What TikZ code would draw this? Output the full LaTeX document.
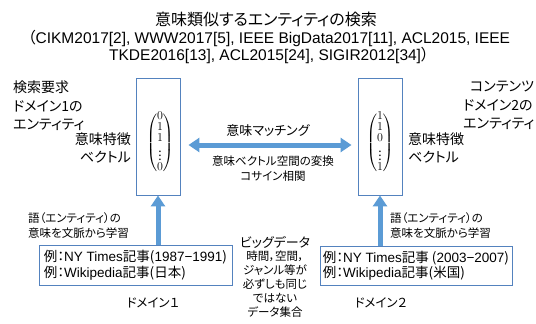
\documentclass[tikz,border=0pt]{standalone}
\usepackage[no-math]{fontspec}
\usepackage{amsmath}
\setmainfont{Noto Sans CJK JP}[RawFeature=+palt]
\newfontfamily\lat{Liberation Sans}
\usetikzlibrary{arrows.meta}
\definecolor{boxc}{RGB}{84,130,190}
\definecolor{arrc}{RGB}{91,155,213}
\tikzset{
  txt/.style={inner sep=0pt, font=\fontsize{#1}{#1}\selectfont},
  txtls/.style 2 args={inner sep=0pt, font=\fontsize{#1}{#2}\selectfont},
  vbox/.style={draw=boxc, line width=0.9pt, minimum width=44pt, minimum height=117pt, inner sep=0pt},
  vec/.style={inner sep=0pt, font=\fontsize{12}{10.5}\selectfont},
  exbox/.style={draw=boxc, line width=0.9pt, inner sep=0pt, align=left, font=\fontsize{13.5}{15.5}\selectfont},
  bigarr/.style={draw=arrc, line width=5pt, -{Triangle[length=11pt,width=14pt]}},
  dblarr/.style={draw=arrc, line width=5pt, {Triangle[length=11pt,width=14pt]}-{Triangle[length=11pt,width=14pt]}},
}
\begin{document}
\begin{tikzpicture}[x=1pt,y=-1pt]
\useasboundingbox (0,0) rectangle (536,324);
% title
\node[txt=16] (title) at (266,19.5) {意味類似するエンティティの検索};
\node[txtls={15.5}{17}, align=center, anchor=north] (sub) at (269,30)
  {（{\lat CIKM2017[2], WWW2017[5], IEEE BigData2017[11], ACL2015, IEEE}\\
   {\lat TKDE2016[13], ACL2015[24], SIGIR2012[34]}）};
% vector boxes
\node[vbox] (v1) at (158,136.5) {};
\node[vbox] (v2) at (380,136.5) {};
\node[vec] (m1) at (160,143)
  {$\begin{pmatrix}0\\1\\1\\\vdots\\0\end{pmatrix}$};
\node[vec] (m2) at (380,143)
  {$\begin{pmatrix}1\\1\\0\\\vdots\\1\end{pmatrix}$};
% side labels
\node[txtls={14}{18.5}, align=left, anchor=north west] (q1) at (13,81)
  {検索要求\\ドメイン1の\\エンティティ};
\node[txtls={14}{18}, align=right, anchor=north east] (f1) at (131,133)
  {意味特徴\\ベクトル};
\node[txtls={14}{18.5}, align=left, anchor=north west] (q2) at (463,81)
  {\hspace{7pt}コンテンツ\\ドメイン2の\\エンティティ};
\node[txtls={14}{18}, align=left, anchor=north west] (f2) at (408,133)
  {意味特徴\\ベクトル};
% matching
\draw[dblarr] ([shift={(8,8.5)}]v1.east) -- ([shift={(-6,8.5)}]v2.west);
\node[txt=13] (match) at (268,131) {意味マッチング};
\node[txtls={11.5}{15}, align=center, anchor=north] (cos) at (273,156)
  {意味ベクトル空間の変換\\コサイン相関};
% example boxes
\node[exbox, minimum width=193pt, minimum height=40pt] (b1) at (135.5,265)
  {例：{\lat NY Times}記事({\lat 1987−1991})\\例：{\lat Wikipedia}記事(日本)};
\node[exbox, minimum width=192pt, minimum height=39pt] (b2) at (416,265.5)
  {例：{\lat NY Times}記事 ({\lat 2003−2007})\\例：{\lat Wikipedia}記事(米国)};
\draw[bigarr] (b1.north -| v1.south) -- (v1.south);
\draw[bigarr] (b2.north -| v2.south) -- (v2.south);
\node[txtls={11.5}{15}, align=left, anchor=north west] (l1) at (28,212)
  {語（エンティティ）の\\意味を文脈から学習};
\node[txtls={11.5}{15}, align=left, anchor=north west] (l2) at (390,212)
  {語（エンティティ）の\\意味を文脈から学習};
\node[txt=12.5] (d1) at (153,303) {ドメイン１};
\node[txt=12.5] (d2) at (381,303) {ドメイン２};
% big data
\node[txt=13] (bd) at (275,242) {ビッグデータ};
\node[txtls={11.5}{14}, align=center, anchor=north] (bdt) at (275,251)
  {時間，空間，\\ジャンル等が\\必ずしも同じ\\ではない\\データ集合};
\end{tikzpicture}
\end{document}
